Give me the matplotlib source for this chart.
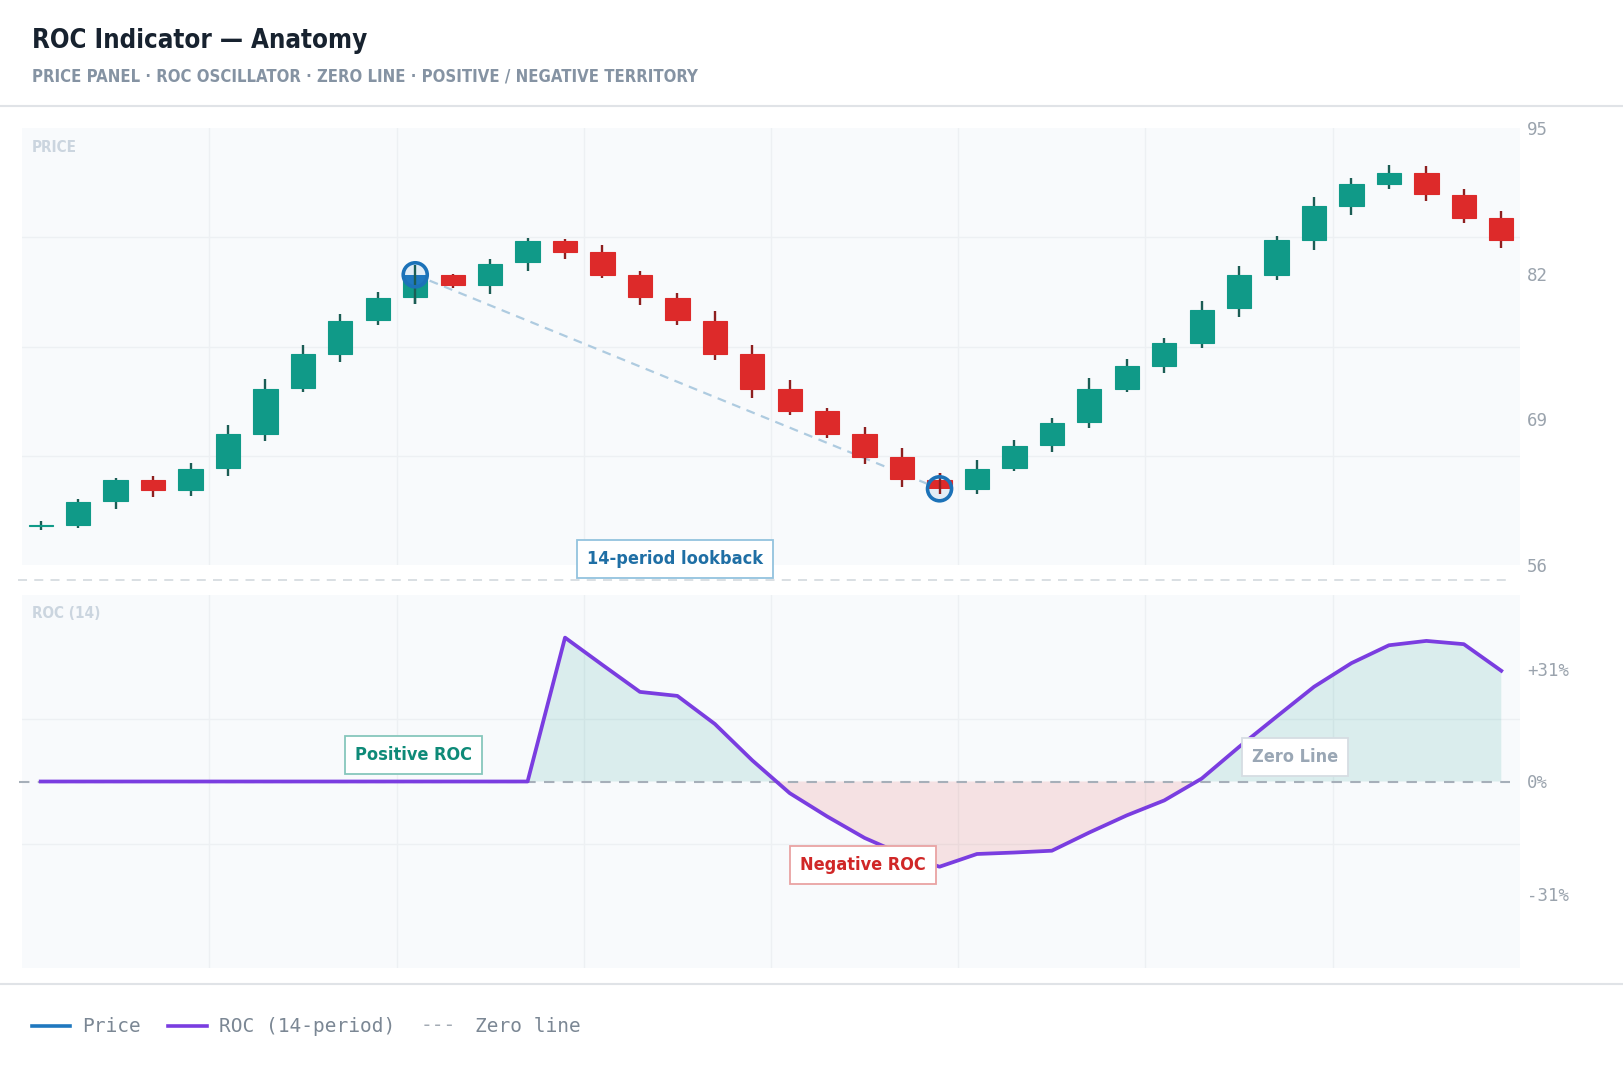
import matplotlib
matplotlib.use("Agg")
import matplotlib.pyplot as plt
from matplotlib import font_manager, transforms
from matplotlib.font_manager import FontProperties
from matplotlib.lines import Line2D
from matplotlib.patches import Circle

# ---- data ----
opens = [59.45, 59.6, 61.7, 63.6, 62.7, 64.7, 67.7, 71.8, 74.85, 77.85,
         79.9, 81.9, 81.0, 83.0, 84.9, 83.9, 81.9, 79.85, 77.8, 74.8,
         71.7, 69.7, 67.7, 65.65, 63.6, 62.8, 64.7, 66.7, 68.75, 71.75,
         73.8, 75.8, 78.9, 81.9, 85.0, 88.0, 90.0, 91.0, 89.0, 87.0]
highs = [59.9, 61.85, 63.8, 63.9, 65.1, 68.5, 72.6, 75.6, 78.4, 80.4,
         82.8, 82.0, 83.35, 85.2, 85.05, 84.6, 82.2, 80.3, 78.7, 75.6,
         72.55, 70.0, 68.3, 66.45, 64.2, 65.4, 67.2, 69.1, 72.65, 74.4,
         76.3, 79.6, 82.7, 85.35, 88.85, 90.55, 91.7, 91.6, 89.6, 87.6]
lows = [59.1, 59.3, 61.0, 62.1, 62.15, 63.9, 67.05, 71.4, 74.1, 77.4,
        79.3, 80.75, 80.15, 82.2, 83.35, 81.6, 79.2, 77.4, 74.3, 70.9,
        69.4, 67.3, 65.0, 63.0, 62.3, 62.35, 64.4, 66.1, 68.2, 71.4,
        73.1, 75.4, 78.1, 81.4, 84.1, 87.2, 89.6, 88.5, 86.5, 84.3]
closes = [59.55, 61.6, 63.6, 62.7, 64.6, 67.65, 71.7, 74.8, 77.8, 79.85,
          81.9, 81.0, 82.9, 84.9, 83.95, 81.9, 79.9, 77.9, 74.8, 71.75,
          69.7, 67.7, 65.65, 63.7, 62.8, 64.6, 66.65, 68.7, 71.75, 73.75,
          75.8, 78.8, 81.9, 85.0, 88.0, 90.0, 91.0, 89.1, 87.0, 85.0]
roc = [0, 0, 0, 0, 0, 0, 0, 0, 0, 0, 0, 0, 0, 0,
       39.5, 32.0, 24.6, 23.5, 15.8, 5.8, -3.2, -9.6, -15.5, -20.0,
       -23.4, -19.9, -19.5, -19.0, -14.0, -9.3, -5.2, 0.8, 9.5, 17.8,
       26.0, 32.5, 37.4, 38.6, 37.7, 30.4]
price_ticks = [56, 69, 82, 95]
roc_ticks = [-31, 0, 31]
roc_tick_labels = ["-31%", "0%", "+31%"]
lookback = (10, 24)

GREEN = "#109a88"
RED = "#dd2a2a"
BLUE = "#1f78bf"
PURPLE = "#7a3de0"
PANEL = "#f8fafc"
GRID = "#edf0f3"
MONO = "DejaVu Sans Mono"


def find_condensed():
    # look for a bold condensed / narrow face among the installed fonts
    prefs = ["NotoSans-ExtraCondensedBold", "NotoSans-ExtraCondensed-Bold",
             "NotoSans-CondensedBold", "NotoSans-Condensed-Bold",
             "DejaVuSansCondensed-Bold", "LiberationSansNarrow-Bold",
             "RobotoCondensed-Bold"]
    files = [f.fname for f in font_manager.fontManager.ttflist]
    for p in prefs:
        for fn in files:
            if p.lower() in fn.lower().replace(" ", ""):
                return fn
    for fn in files:
        low = fn.lower()
        if ("condensed" in low or "narrow" in low) and "bold" in low:
            return fn
    return None


COND_FILE = find_condensed()


def cond(size):
    if COND_FILE:
        return FontProperties(fname=COND_FILE, size=size)
    return FontProperties(family="Roboto", weight="bold", size=size)


W, H = 1624, 1072
fig = plt.figure(figsize=(W / 100, H / 100), dpi=100)
fig.patch.set_facecolor("white")


def fy(py):
    return 1 - py / H


ax_p = fig.add_axes([22 / W, fy(565), 1498 / W, 437 / H])
ax_r = fig.add_axes([22 / W, fy(968), 1498 / W, 373 / H])

n = len(closes)
xs = list(range(n))
for ax in (ax_p, ax_r):
    ax.set_facecolor(PANEL)
    for s in ax.spines.values():
        s.set_visible(False)
    ax.set_xlim(-0.5, n - 0.5)
    ax.set_xticks([])
    ax.yaxis.tick_right()
    ax.tick_params(axis="y", length=0, pad=5, labelsize=12.5,
                   labelcolor="#9aa3ad", labelfontfamily=MONO)
    for k in range(1, 8):
        ax.axvline(-0.5 + n * k / 8, color=GRID, lw=1, zorder=0)

# ---- price panel ----
ax_p.set_ylim(56, 95)
ax_p.set_yticks(price_ticks)
for k in range(1, 4):
    ax_p.axhline(56 + 39 * k / 4, color=GRID, lw=1, zorder=0)

up = [c >= o for o, c in zip(opens, closes)]
body_col = [GREEN if u else RED for u in up]
wick_col = ["#1b5d55" if u else "#8e1f1f" for u in up]
bottoms = [min(o, c) for o, c in zip(opens, closes)]
heights = [abs(c - o) for o, c in zip(opens, closes)]

ax_p.vlines(xs, lows, highs, colors=wick_col, lw=1.7, zorder=2)
ax_p.bar(xs, heights, bottom=bottoms, width=0.65, color=body_col,
         edgecolor=body_col, lw=0.8, zorder=3)

a, b = lookback
ax_p.plot([a, b], [closes[a], closes[b]], color="#aecbe0", lw=1.6,
          ls=(0, (4, 3)), zorder=1.5)

for i, fill in ((a, BLUE), (b, RED)):
    trans = fig.dpi_scale_trans + transforms.ScaledTranslation(i, closes[i], ax_p.transData)
    disc = Circle((0, 0), 0.12, transform=trans, facecolor="#e2edf6",
                  edgecolor="none", zorder=4)
    ax_p.add_patch(disc)
    clipped = ax_p.bar([i], [heights[i]], bottom=[bottoms[i]], width=0.65,
                       color=fill, zorder=5)
    for r in clipped:
        r.set_clip_path(disc)
    ax_p.vlines([i], [lows[i]], [highs[i]], colors=wick_col[i], lw=1.7, zorder=6)
    ring = Circle((0, 0), 0.12, transform=trans, facecolor="none",
                  edgecolor="#1c72b8", lw=2.6, zorder=7)
    ax_p.add_patch(ring)

ax_p.text(0.436, 0.0137, "14-period lookback", transform=ax_p.transAxes,
          ha="center", va="center", fontproperties=cond(13),
          color="#1f6fa5", zorder=10, clip_on=False,
          bbox=dict(boxstyle="square,pad=0.55", fc="white", ec="#93c3de", lw=1.3))

# ---- ROC panel ----
lim = 51.2
ax_r.set_ylim(-lim, lim)
ax_r.set_yticks(roc_ticks)
ax_r.set_yticklabels(roc_tick_labels)
for k in (1, 2):
    ax_r.axhline(-lim + 2 * lim * k / 3, color=GRID, lw=1, zorder=0)

ax_r.fill_between(xs, roc, 0, where=[v >= 0 for v in roc], interpolate=True,
                  color="#139a8a", alpha=0.13, lw=0, zorder=1)
ax_r.fill_between(xs, roc, 0, where=[v <= 0 for v in roc], interpolate=True,
                  color="#e23434", alpha=0.12, lw=0, zorder=1)
ax_r.axhline(0, xmin=-0.002, xmax=0.993, color="#a6afb9", lw=1.5,
             ls=(0, (5, 4)), zorder=2, clip_on=False)
ax_r.plot(xs, roc, color=PURPLE, lw=2.7, zorder=3, solid_joinstyle="round")

box_kw = dict(ha="center", va="center", fontproperties=cond(13), zorder=10)
ax_r.text(9.95, 7.3, "Positive ROC", color="#0e8a78",
          bbox=dict(boxstyle="square,pad=0.55", fc="white", ec="#86c7bc", lw=1.3), **box_kw)
ax_r.text(21.95, -23.0, "Negative ROC", color="#d02727",
          bbox=dict(boxstyle="square,pad=0.55", fc="white", ec="#e9a3a3", lw=1.3), **box_kw)
ax_r.text(33.5, 6.7, "Zero Line", color="#9aa7b5",
          bbox=dict(boxstyle="square,pad=0.55", fc="white", ec="#d6dde3", lw=1.3), **box_kw)

# ---- header, separators, panel tags ----
fig.text(32 / W, fy(41), "ROC Indicator \u2014 Anatomy", fontproperties=cond(18.5),
         color="#17222f", va="center")
fig.text(32 / W, fy(77), "PRICE PANEL \u00b7 ROC OSCILLATOR \u00b7 ZERO LINE \u00b7 "
         "POSITIVE / NEGATIVE TERRITORY", fontproperties=cond(12),
         color="#8593a3", va="center")
fig.add_artist(Line2D([0, 1], [fy(106), fy(106)], color="#e0e3e7", lw=1.5))
fig.add_artist(Line2D([0, 1], [fy(984), fy(984)], color="#e0e3e7", lw=1.5))
fig.add_artist(Line2D([18 / W, 1512 / W], [fy(580), fy(580)], color="#d7dce1",
                      lw=1.3, ls=(0, (5, 4))))
fig.text(32 / W, fy(148), "PRICE", fontproperties=cond(11),
         color="#cbd5df", va="center")
fig.text(32 / W, fy(614), "ROC (14)", fontproperties=cond(11),
         color="#cbd5df", va="center")

# ---- legend ----
ly = fy(1026)
leg_kw = dict(fontsize=14, family=MONO, color="#7b8794", va="center")
fig.add_artist(Line2D([32 / W, 70 / W], [ly, ly], color=BLUE, lw=2.6))
fig.text(82 / W, ly, "Price", **leg_kw)
fig.add_artist(Line2D([168 / W, 207 / W], [ly, ly], color=PURPLE, lw=2.6))
fig.text(219 / W, ly, "ROC (14-period)", **leg_kw)
fig.text(421 / W, ly, "---", fontsize=14, family=MONO, color="#a3abb4", va="center")
fig.text(475 / W, ly, "Zero line", **leg_kw)

fig.savefig("out.png", dpi=100, facecolor="white")
